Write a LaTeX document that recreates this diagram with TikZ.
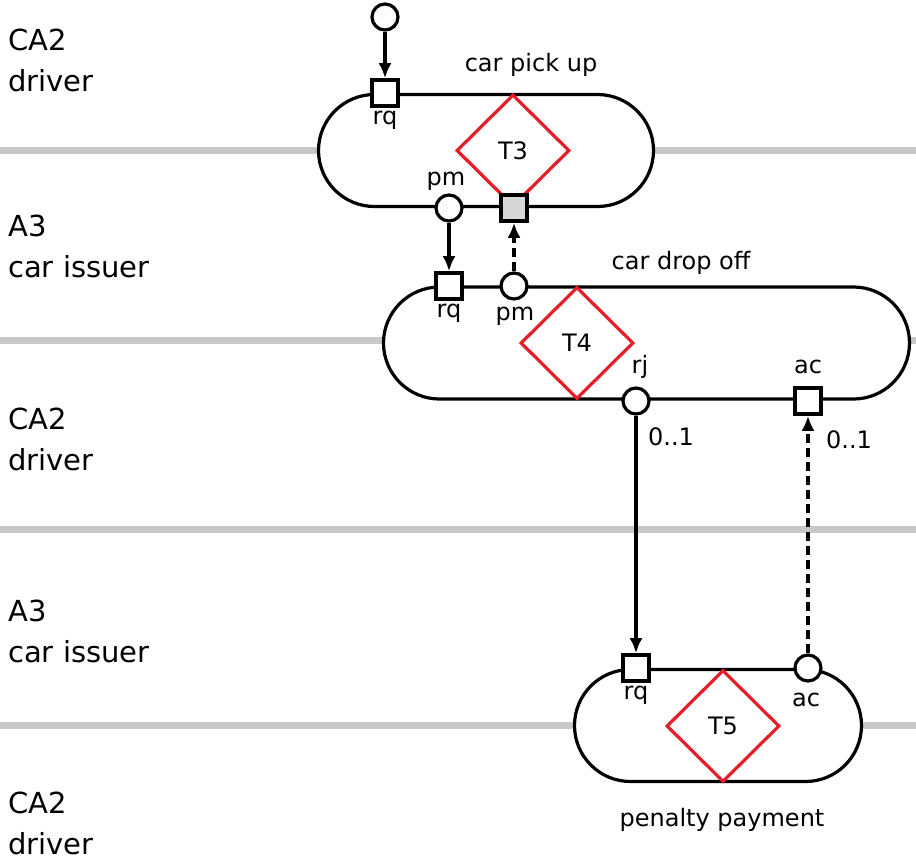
\documentclass[tikz,border=0pt]{standalone}
\usepackage{fontspec}
\setmainfont{DejaVu Sans}
\usetikzlibrary{shapes.geometric,arrows.meta,positioning}
\definecolor{lanegray}{RGB}{200,200,200}
\definecolor{txred}{RGB}{230,30,40}
\definecolor{portgray}{RGB}{215,215,215}

\tikzset{
    lane/.style={lanegray, line width=7pt},
    actor/.style={anchor=west, align=left, inner sep=0pt, font=\fontsize{29}{41}\selectfont},
    txbox/.style={draw, fill=white, line width=3.2pt, rounded corners=56pt, minimum height=112pt, inner sep=0pt},
    txkind/.style={diamond, draw=txred, line width=3.2pt, minimum width=113pt, minimum height=112pt, inner sep=0pt, font=\fontsize{24}{28}\selectfont},
    sq/.style={draw, fill=white, line width=3.6pt, minimum size=26pt, inner sep=0pt},
    circ/.style={circle, draw, fill=white, line width=3.2pt, minimum size=26pt, inner sep=0pt},
    lbl/.style={font=\fontsize{24}{28}\selectfont, inner sep=0pt},
    flow/.style={line width=4pt, -{Latex[length=15pt,width=13pt]}},
    wait/.style={flow, dash pattern=on 9pt off 5pt},
}

\begin{document}
\begin{tikzpicture}[x=1pt, y=-1pt]
    \useasboundingbox (0,0) rectangle (916,860);

    % swimlanes
    \foreach \y in {150,340,529,725}
        \draw[lane] (0,\y) -- (916,\y);
    \foreach \y/\txt [count=\i] in {60/{CA2\\driver}, 246/{A3\\car issuer}, 439/{CA2\\driver}, 631/{A3\\car issuer}, 823/{CA2\\driver}}
        \node[actor] (actor\i) at (8,\y) {\txt};

    % transactions
    \node[txbox, minimum width=335pt] (pickup) at (486,150.5) {};
    \node[txbox, minimum width=526pt] (dropoff) at (646.5,343) {};
    \node[txbox, minimum width=287pt] (penalty) at (718,725.5) {};

    \node[txkind] (T3) at (513,150.5) {T3};
    \node[txkind] (T4) at (577,343) {T4};
    \node[txkind] (T5) at (723,726) {T5};

    % ports
    \node[circ] (start) at (385,17) {};
    \node[sq] (rq1) at (385,93) {};
    \node[circ] (pm1) at (449,208) {};
    \node[sq, fill=portgray] (pm1st) at (514,208) {};
    \node[sq] (rq2) at (449,286) {};
    \node[circ] (pm2) at (514,286) {};
    \node[circ] (rj2) at (636,401) {};
    \node[sq] (ac2) at (808,401) {};
    \node[sq] (rq3) at (636,668) {};
    \node[circ] (ac3) at (808,668) {};

    % labels
    \node[lbl] (pickuplbl) at (531,65) {car pick up};
    \node[lbl] (rq1lbl) at (385,120) {rq};
    \node[lbl] (pm1lbl) at (446,181) {pm};
    \node[lbl] (dropofflbl) at (681,263) {car drop off};
    \node[lbl] (rq2lbl) at (449,313) {rq};
    \node[lbl] (pm2lbl) at (515,316) {pm};
    \node[lbl] (rj2lbl) at (640,367) {rj};
    \node[lbl] (ac2lbl) at (808,367) {ac};
    \node[lbl] (rjcard) at (671,437) {0..1};
    \node[lbl] (accard) at (849,440) {0..1};
    \node[lbl] (rq3lbl) at (636,695) {rq};
    \node[lbl] (ac3lbl) at (806,700) {ac};
    \node[lbl] (penaltylbl) at (722,820) {penalty payment};

    % links
    \draw[flow] (start) -- (rq1);
    \draw[flow] (pm1) -- (rq2);
    \draw[wait] (pm2) -- (pm1st);
    \draw[flow] (rj2) -- (rq3);
    \draw[wait] (ac3) -- (ac2);
\end{tikzpicture}
\end{document}
